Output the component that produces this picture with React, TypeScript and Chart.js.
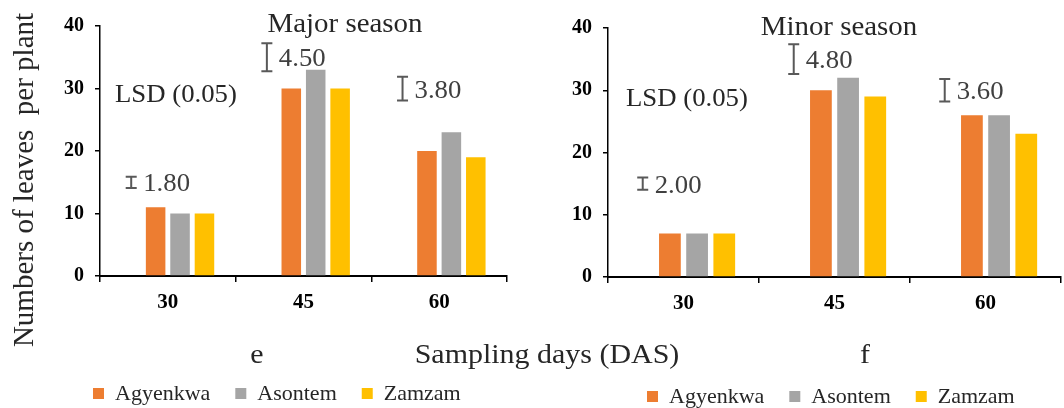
import React, { useEffect, useRef } from "react";
import { Chart, registerables } from "chart.js";

Chart.register(...registerables);

// Sampling days (categories) and cultivars (series)
const CATEGORIES = ["30", "45", "60"];
const SERIES_NAMES = ["Agyenkwa", "Asontem", "Zamzam"];
const SERIES_COLORS = ["#ED7D31", "#A5A5A5", "#FFC000"];
const Y_TICKS = [0, 10, 20, 30, 40];

// Major season: number of leaves per plant
const MAJOR_AGYENKWA = [11, 30, 20];
const MAJOR_ASONTEM = [10, 33, 23];
const MAJOR_ZAMZAM = [10, 30, 19];
// LSD (0.05) bar lengths and where each bar is centred
const MAJOR_LSD = [1.8, 4.5, 3.8];
const MAJOR_LSD_CENTER = [15, 35, 30];

// Minor season: number of leaves per plant
const MINOR_AGYENKWA = [7, 30, 26];
const MINOR_ASONTEM = [7, 32, 26];
const MINOR_ZAMZAM = [7, 29, 23];
const MINOR_LSD = [2.0, 4.8, 3.6];
const MINOR_LSD_CENTER = [15, 35, 30];

const SERIF = '"Liberation Serif", "Times New Roman", serif';
const W = 1064;
const H = 408;
// slightly widened lettering for the free-standing labels
const TEXT_STRETCH = 1.07;

type TextItem = {
  text: string;
  x: number;
  y: number;
  size: number;
  align?: CanvasTextAlign;
  rotate?: boolean;
};

type PanelSpec = {
  lsd: number[];
  area: { left: number; right: number; top: number; bottom: number };
  texts: TextItem[];
  legendX: number;
  legendSquareTop: number;
  legendBaseline: number;
};

const PANELS: { spec: PanelSpec; series: number[][]; lsdCenter: number[] }[] = [
  {
    spec: {
      lsd: MAJOR_LSD,
      area: { left: 100, right: 507, top: 26, bottom: 276 },
      texts: [
        { text: "Major season", x: 345, y: 32, size: 27, align: "center" },
        { text: "LSD (0.05)", x: 115, y: 102, size: 25 },
        { text: "Numbers of leaves  per plant", x: 33, y: 180, size: 29, align: "center", rotate: true },
        { text: "e", x: 257, y: 363, size: 28, align: "center" },
        { text: "Sampling days (DAS)", x: 547, y: 363, size: 28, align: "center" },
      ],
      legendX: 93,
      legendSquareTop: 388,
      legendBaseline: 400,
    },
    series: [MAJOR_AGYENKWA, MAJOR_ASONTEM, MAJOR_ZAMZAM],
    lsdCenter: MAJOR_LSD_CENTER,
  },
  {
    spec: {
      lsd: MINOR_LSD,
      area: { left: 608, right: 1061, top: 28, bottom: 277 },
      texts: [
        { text: "Minor season", x: 839, y: 35, size: 27, align: "center" },
        { text: "LSD (0.05)", x: 626, y: 106, size: 25 },
        { text: "f", x: 865, y: 363, size: 28, align: "center" },
      ],
      legendX: 647,
      legendSquareTop: 391,
      legendBaseline: 403,
    },
    series: [MINOR_AGYENKWA, MINOR_ASONTEM, MINOR_ZAMZAM],
    lsdCenter: MINOR_LSD_CENTER,
  },
];

function drawText(
  ctx: CanvasRenderingContext2D,
  text: string,
  x: number,
  y: number,
  align: CanvasTextAlign,
  rotate = false
) {
  ctx.save();
  ctx.translate(x, y);
  if (rotate) ctx.rotate(-Math.PI / 2);
  else ctx.scale(TEXT_STRETCH, 1);
  ctx.textAlign = align;
  ctx.textBaseline = "alphabetic";
  ctx.fillText(text, 0, 0);
  ctx.restore();
}

// Draws the LSD error bars with their values, the free-standing texts and the legend
function makeAnnotations(spec: PanelSpec) {
  return {
    id: "panelAnnotations",
    afterDraw(chart: any) {
      const ctx: CanvasRenderingContext2D = chart.ctx;
      const yScale = chart.scales.y;
      const lsdMeta = chart.getDatasetMeta(0);
      const centers: number[] = chart.data.datasets[0].data;
      ctx.save();

      // LSD error bars
      spec.lsd.forEach((len, i) => {
        const x = lsdMeta.data[i].x;
        const yTop = yScale.getPixelForValue(centers[i] + len / 2);
        const yBot = yScale.getPixelForValue(centers[i] - len / 2);
        const yMid = yScale.getPixelForValue(centers[i]);
        ctx.strokeStyle = "#595959";
        ctx.lineWidth = 2;
        ctx.beginPath();
        ctx.moveTo(x, yTop);
        ctx.lineTo(x, yBot);
        ctx.moveTo(x - 5.5, yTop);
        ctx.lineTo(x + 5.5, yTop);
        ctx.moveTo(x - 5.5, yBot);
        ctx.lineTo(x + 5.5, yBot);
        ctx.stroke();
        ctx.fillStyle = "#404040";
        ctx.font = `25px ${SERIF}`;
        drawText(ctx, len.toFixed(2), x + 12, yMid + 9, "left");
      });

      // Titles and labels
      spec.texts.forEach((t) => {
        ctx.fillStyle = "#262626";
        ctx.font = `${t.size}px ${SERIF}`;
        drawText(ctx, t.text, t.x, t.y, t.align || "left", !!t.rotate);
      });

      // Legend (cultivar datasets only)
      let lx = spec.legendX;
      ctx.font = `22px ${SERIF}`;
      ctx.textAlign = "left";
      ctx.textBaseline = "alphabetic";
      chart.data.datasets.slice(1).forEach((ds: any) => {
        ctx.fillStyle = ds.backgroundColor;
        ctx.fillRect(lx, spec.legendSquareTop, 11, 11);
        ctx.fillStyle = "#262626";
        ctx.fillText(ds.label, lx + 22, spec.legendBaseline);
        lx += 22 + ctx.measureText(ds.label).width + 25;
      });
      ctx.restore();
    },
  };
}

function buildConfig(panel: (typeof PANELS)[number]): any {
  const { spec, series, lsdCenter } = panel;
  const yWidth = 100;
  return {
    type: "bar",
    data: {
      labels: CATEGORIES,
      datasets: [
        {
          label: "LSD (0.05)",
          data: lsdCenter,
          backgroundColor: "rgba(0,0,0,0)",
          borderWidth: 0,
        },
        ...series.map((values, i) => ({
          label: SERIES_NAMES[i],
          data: values,
          backgroundColor: SERIES_COLORS[i],
          borderWidth: 0,
        })),
      ],
    },
    options: {
      responsive: false,
      animation: false,
      events: [],
      devicePixelRatio: 1,
      datasets: {
        bar: { barPercentage: 0.8, categoryPercentage: 0.72 },
      },
      layout: {
        padding: {
          left: spec.area.left - yWidth,
          right: W - spec.area.right,
          top: spec.area.top,
          bottom: 0,
        },
      },
      plugins: {
        legend: { display: false },
        tooltip: { enabled: false },
        title: { display: false },
      },
      scales: {
        x: {
          type: "category",
          grid: {
            display: true,
            drawOnChartArea: false,
            offset: true,
            tickLength: 6,
            color: "#000",
            lineWidth: 1.5,
          },
          border: { display: true, color: "#000", width: 2 },
          ticks: {
            font: { family: SERIF, size: 21, weight: "bold" },
            color: "#000",
            padding: 8,
            maxRotation: 0,
          },
          afterFit: (s: any) => {
            s.height = H - spec.area.bottom;
          },
        },
        y: {
          min: 0,
          max: 40,
          afterBuildTicks: (s: any) => {
            s.ticks = Y_TICKS.map((v) => ({ value: v }));
          },
          grid: {
            drawOnChartArea: false,
            tickLength: 5,
            color: "#000",
            lineWidth: 1.5,
          },
          border: { display: true, color: "#000", width: 1.5 },
          ticks: {
            font: { family: SERIF, size: 20, weight: "bold" },
            color: "#000",
            padding: 11,
          },
          afterFit: (s: any) => {
            s.width = yWidth;
          },
        },
      },
    },
    plugins: [makeAnnotations(spec)],
  };
}

function Panel({ index }: { index: number }) {
  const ref = useRef<HTMLCanvasElement | null>(null);
  useEffect(() => {
    if (!ref.current) return;
    const chart = new Chart(ref.current, buildConfig(PANELS[index]));
    return () => chart.destroy();
  }, [index]);
  return (
    <canvas
      ref={ref}
      width={W}
      height={H}
      style={{ position: "absolute", left: 0, top: 0, width: W, height: H }}
    />
  );
}

export default function App() {
  return (
    <div
      style={{
        position: "absolute",
        left: 0,
        top: 0,
        width: W,
        height: H,
        background: "#fff",
        overflow: "hidden",
      }}
    >
      {PANELS.map((_, i) => (
        <Panel key={i} index={i} />
      ))}
    </div>
  );
}
